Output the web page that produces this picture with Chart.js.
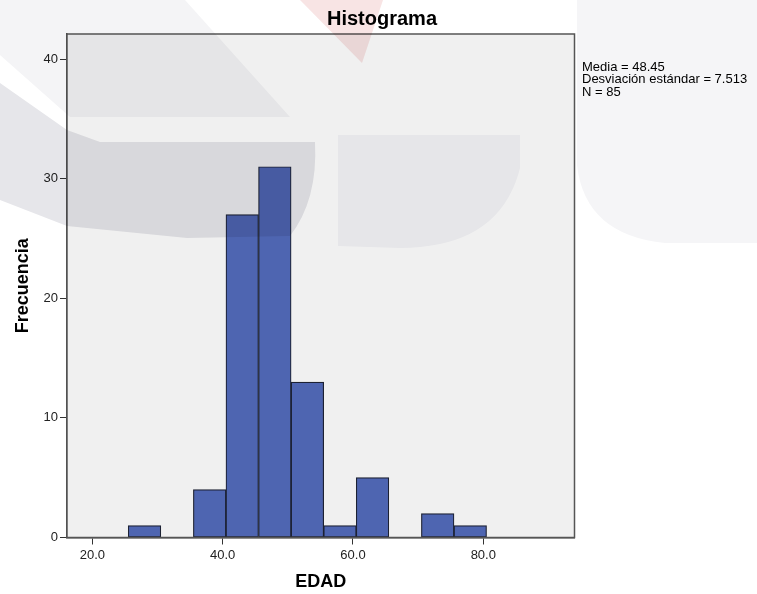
<!DOCTYPE html>
<html>
<head>
<meta charset="utf-8">
<script src="https://cdn.jsdelivr.net/npm/chart.js@4.4.0/dist/chart.umd.min.js"></script>
<style>
  html, body { margin: 0; padding: 0; background: #ffffff; }
  #wrap { position: relative; width: 757px; height: 594px; }
  #c { position: absolute; left: 0; top: 0; }
  #wm { position: absolute; left: 0; top: 0; width: 757px; height: 594px; pointer-events: none; mix-blend-mode: multiply; }
</style>
</head>
<body>
<div id="wrap">
  <canvas id="c" width="757" height="594"></canvas>
  <svg id="wm" width="757" height="594" viewBox="0 0 757 594">
    <polygon points="0,0 185,0 290,117 70,117 0,55" fill="#f4f4f6"/>
    <path d="M0,83 L67,130 L100,142 L315,142 Q318,200 290,236 L187,238 L67,226 L0,200 Z" fill="#e6e6ea"/>
    <path d="M338,135 L520,135 L520,168 Q500,248 400,248 L338,246 Z" fill="#f5f5f8"/>
    <polygon points="300,0 383,0 362,63" fill="#f8e4e4"/>
    <path d="M577,0 L757,0 L757,243 L665,243 Q585,235 577,165 Z" fill="#f5f5f7"/>
  </svg>
</div>
<script>
// ---- data ----
const binStarts = [25.5, 30.5, 35.5, 40.5, 45.5, 50.5, 55.5, 60.5, 65.5, 70.5, 75.5];
const binWidth = 5;
const frequencies = [1, 0, 4, 27, 31, 13, 1, 5, 0, 2, 1];
const xTickValues = [20, 40, 60, 80];
const xTickLabels = ['20.0', '40.0', '60.0', '80.0'];
const yTickValues = [0, 10, 20, 30, 40];
const yTickLabels = ['0', '10', '20', '30', '40'];
const titleText = 'Histograma';
const xTitle = 'EDAD';
const yTitle = 'Frecuencia';
const statsLines = ['Media = 48.45', 'Desviación estándar = 7.513', 'N = 85'];

const FONT = '"Liberation Sans", Arial, sans-serif';

const points = binStarts.map((s, i) => ({ x: s + binWidth / 2, y: frequencies[i] }));

const decorPlugin = {
  id: 'decor',
  beforeDatasetsDraw(chart) {
    const { ctx, chartArea: a } = chart;
    ctx.save();
    ctx.fillStyle = '#f0f0f0';
    ctx.fillRect(a.left, a.top, a.right - a.left, a.bottom - a.top);
    ctx.restore();
  },
  afterDraw(chart) {
    const { ctx, chartArea: a } = chart;
    ctx.save();
    ctx.strokeStyle = '#555555';
    ctx.lineWidth = 1.5;
    ctx.strokeRect(a.left, a.top, a.right - a.left, a.bottom - a.top);
    ctx.fillStyle = '#000000';
    ctx.textBaseline = 'middle';
    ctx.textAlign = 'center';
    ctx.font = 'bold 20px ' + FONT;
    ctx.fillText(titleText, 382, 19);
    ctx.textAlign = 'left';
    ctx.font = '13px ' + FONT;
    statsLines.forEach((t, i) => ctx.fillText(t, 582, 67 + i * 12.6));
    ctx.restore();
  }
};

new Chart(document.getElementById('c'), {
  type: 'bar',
  data: {
    datasets: [{
      data: points,
      backgroundColor: '#4e65b1',
      borderColor: '#1c2133',
      borderWidth: 1.2,
      borderSkipped: false,
      barPercentage: 1,
      categoryPercentage: 1
    }]
  },
  options: {
    responsive: false,
    animation: false,
    layout: { padding: { left: 0, right: 182.5, top: 34, bottom: 0 } },
    plugins: {
      legend: { display: false },
      title: { display: false },
      tooltip: { enabled: false }
    },
    scales: {
      x: {
        type: 'linear',
        min: 16.1,
        max: 94.0,
        offset: false,
        afterFit(scale) { scale.height = 56.5; },
        afterBuildTicks(scale) { scale.ticks = xTickValues.map(v => ({ value: v })); },
        grid: { display: true, drawOnChartArea: false, drawTicks: true, tickLength: 7, color: '#333333', offset: false },
        border: { display: true, color: '#444444', width: 1.5 },
        ticks: {
          callback: (v) => xTickLabels[xTickValues.indexOf(v)],
          color: '#222222',
          font: { family: FONT, size: 13 },
          padding: 3,
          maxRotation: 0
        },
        title: {
          display: true,
          text: xTitle,
          color: '#000000',
          font: { family: FONT, size: 18, weight: 'bold' },
          padding: { top: 0, bottom: 1.4 }
        }
      },
      y: {
        type: 'linear',
        min: 0,
        max: 42.1,
        afterFit(scale) { scale.width = 67; },
        afterBuildTicks(scale) { scale.ticks = yTickValues.map(v => ({ value: v })); },
        grid: { display: true, drawOnChartArea: false, drawTicks: true, tickLength: 7, color: '#333333' },
        border: { display: true, color: '#444444', width: 1.5 },
        ticks: {
          callback: (v) => yTickLabels[yTickValues.indexOf(v)],
          color: '#222222',
          font: { family: FONT, size: 13 },
          padding: 2
        },
        title: {
          display: true,
          text: yTitle,
          color: '#000000',
          font: { family: FONT, size: 18, weight: 'bold' },
          padding: { top: 12.4, bottom: 0 }
        }
      }
    }
  },
  plugins: [decorPlugin]
});
</script>
</body>
</html>
